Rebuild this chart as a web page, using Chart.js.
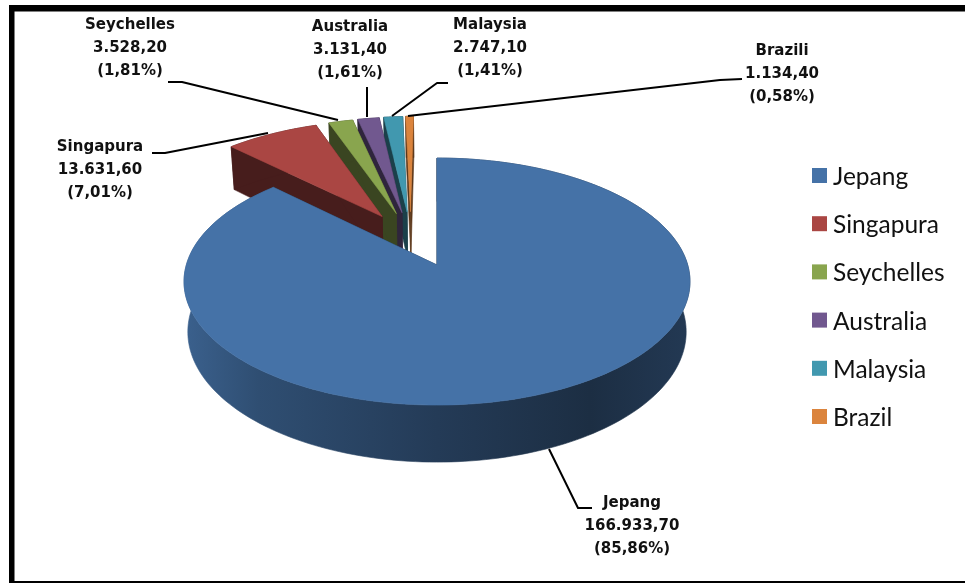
<!DOCTYPE html>
<html>
<head>
<meta charset="utf-8">
<title>Pie</title>
<style>
  body { margin: 0; background: #fff; }
  canvas { display: block; }
</style>
<script src="https://cdn.jsdelivr.net/npm/chart.js@4"></script>
</head>
<body>
<canvas id="pieChart" width="965" height="583"></canvas>
<script>
// Chart data
const categories = ['Jepang', 'Singapura', 'Seychelles', 'Australia', 'Malaysia', 'Brazil'];
const calloutNames = ['Jepang', 'Singapura', 'Seychelles', 'Australia', 'Malaysia', 'Brazili'];
const values = [166933.7, 13631.6, 3528.2, 3131.4, 2747.1, 1134.4];
const valueTexts = ['166.933,70', '13.631,60', '3.528,20', '3.131,40', '2.747,10', '1.134,40'];
const shareTexts = ['(85,86%)', '(7,01%)', '(1,81%)', '(1,61%)', '(1,41%)', '(0,58%)'];
const colors = ['#4572A7', '#AA4643', '#89A54E', '#71588F', '#4198AF', '#DB843D'];

// Callout text centre + first line y, then the leader line
const calloutBoxes = [[632, 503], [100, 147], [130, 25], [350, 27], [490, 25], [782, 51]];
const leaderLines = [
  [[549, 449], [578, 508], [592, 508]],
  [[152, 153], [165, 153], [268, 133]],
  [[168, 82], [182, 82], [338, 120]],
  [[367, 87], [367, 117]],
  [[448, 83], [437, 83], [392, 116]],
  [[408, 116], [720, 80], [742, 79]],
];

// Perspective of the tilted disc, fitted to the picture
const CX = 437, CY = 265, RX = 250.7, RY = 121.3, TILT = 0.134, DEPTH = 49.4, BASE_SHRINK = 0.985;
// Exploded slices fan out less than their own angle in the 3D view
const FAN_BASE = -13 * Math.PI / 180, FAN_RATE = 0.48;

function project(u, v, low) {
  const w = 1 + TILT * v;
  return {
    x: CX + (low ? BASE_SHRINK : 1) * RX * u / w,
    y: CY + (-RY * v + (low ? DEPTH : 0)) / w,
  };
}

function shade(hex, m) {
  const n = parseInt(hex.slice(1), 16);
  const c = [n >> 16, (n >> 8) & 255, n & 255].map(p => Math.round(p * m));
  return `rgb(${c.join(',')})`;
}

// Turn the arc the library laid out into points on the disc
function arcGeometry(arc) {
  const { startAngle, endAngle, outerRadius } = arc.getProps(['startAngle', 'endAngle', 'outerRadius']);
  const mid = (startAngle + endAngle) / 2;
  const shift = arc.options.offset / outerRadius;
  // angle from 12 o'clock, negative to the left
  const fromTop = Math.atan2(Math.cos(mid), -Math.sin(mid));
  const dir = FAN_BASE + FAN_RATE * fromTop;
  const ou = Math.sin(dir) * shift;
  const ov = Math.cos(dir) * shift;
  const rim = [];
  const steps = Math.max(4, Math.ceil((endAngle - startAngle) * 40));
  for (let i = 0; i <= steps; i++) {
    const a = startAngle + (endAngle - startAngle) * i / steps;
    rim.push([ou + Math.cos(a), ov - Math.sin(a)]);
  }
  return { apex: [ou, ov], rim };
}

function fillPoly(ctx, points, fill) {
  ctx.beginPath();
  points.forEach((p, i) => (i ? ctx.lineTo(p.x, p.y) : ctx.moveTo(p.x, p.y)));
  ctx.closePath();
  ctx.fillStyle = fill;
  ctx.strokeStyle = fill;
  ctx.lineWidth = 0.6;
  ctx.fill();
  ctx.stroke();
}

function drawSlice(ctx, arc) {
  const color = arc.options.backgroundColor;
  const { apex, rim } = arcGeometry(arc);
  const first = rim[0];
  const last = rim[rim.length - 1];

  // flat side walls
  const wall = shade(color, 0.42);
  [first, last].forEach(end => {
    fillPoly(ctx, [
      project(apex[0], apex[1]), project(end[0], end[1]),
      project(end[0], end[1], true), project(apex[0], apex[1], true),
    ], wall);
  });

  // rounded rim, darker toward the right
  const grad = ctx.createLinearGradient(CX - 255, 0, CX + 255, 0);
  [[0, 0.85], [0.15, 0.68], [0.5, 0.52], [0.8, 0.4], [1, 0.5]].forEach(([stop, m]) => {
    grad.addColorStop(stop, shade(color, m));
  });
  const band = rim.map(p => project(p[0], p[1]))
    .concat(rim.slice().reverse().map(p => project(p[0], p[1], true)));
  fillPoly(ctx, band, arc.options.offset ? wall : grad);

  // top face
  fillPoly(ctx, [project(apex[0], apex[1])].concat(rim.map(p => project(p[0], p[1]))), color);
}

const pie3d = {
  id: 'pie3d',
  beforeDatasetsDraw(chart) {
    const arcs = chart.getDatasetMeta(0).data;
    // far slices first, the big one on top
    for (let i = arcs.length - 1; i >= 0; i--) {
      drawSlice(chart.ctx, arcs[i]);
    }
    return false;
  },
  afterDraw(chart) {
    const ctx = chart.ctx;
    ctx.save();

    // frame, open on the right
    ctx.fillStyle = '#000';
    ctx.fillRect(9, 5, 956, 6.5);
    ctx.fillRect(9, 5, 5.5, 578);
    ctx.fillRect(9, 581, 956, 2);

    // callouts
    ctx.strokeStyle = '#000';
    ctx.lineWidth = 2;
    ctx.lineJoin = 'round';
    leaderLines.forEach(line => {
      ctx.beginPath();
      line.forEach((p, i) => (i ? ctx.lineTo(p[0], p[1]) : ctx.moveTo(p[0], p[1])));
      ctx.stroke();
    });
    ctx.fillStyle = '#111';
    ctx.textAlign = 'center';
    ctx.textBaseline = 'middle';
    ctx.font = 'bold 15px "DejaVu Sans"';
    categories.forEach((c, i) => {
      const [x, y] = calloutBoxes[i];
      ctx.fillText(calloutNames[i], x, y);
      ctx.fillText(valueTexts[i], x, y + 23);
      ctx.fillText(shareTexts[i], x, y + 46);
    });

    // legend
    ctx.textAlign = 'left';
    ctx.font = '24.5px Lato';
    categories.forEach((c, i) => {
      const y = 168 + i * 48.2;
      ctx.fillStyle = colors[i];
      ctx.fillRect(812, y, 15, 15);
      ctx.fillStyle = '#111';
      ctx.fillText(c, 833, y + 9);
    });
    ctx.restore();
  },
};

const pieChart = new Chart(document.getElementById('pieChart').getContext('2d'), {
  type: 'pie',
  data: {
    labels: categories,
    datasets: [{
      data: values,
      backgroundColor: colors,
      borderWidth: 0,
      offset: [0, 113, 113, 113, 113, 113],
    }],
  },
  options: {
    responsive: false,
    animation: false,
    layout: { padding: 0 },
    plugins: {
      legend: { display: false },
      tooltip: { enabled: false },
    },
  },
  plugins: [pie3d],
});
</script>
</body>
</html>
